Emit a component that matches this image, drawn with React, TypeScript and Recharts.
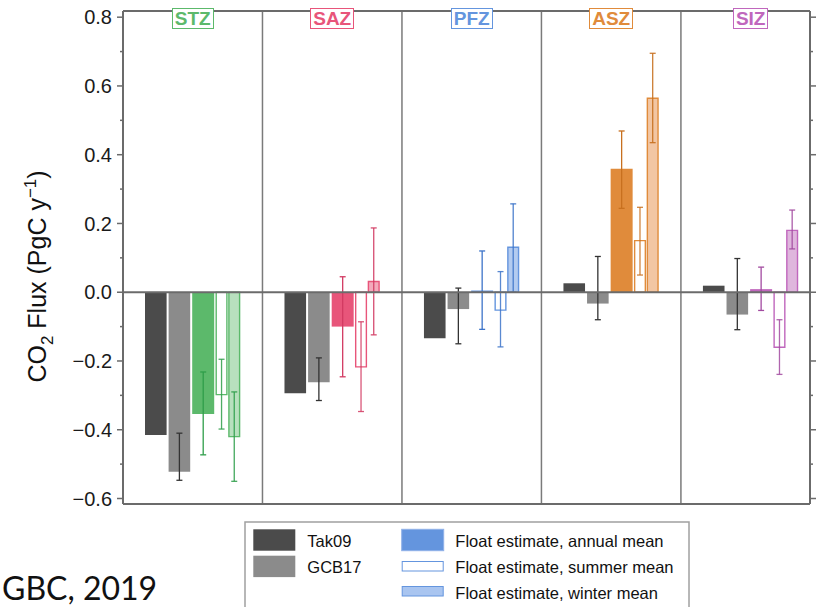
import { BarChart, Bar, XAxis, YAxis, ReferenceLine, ErrorBar, Cell } from 'recharts'

// zones and their colours
const zones = ['STZ', 'SAZ', 'PFZ', 'ASZ', 'SIZ']
const zoneColors = ['#5cb96b', '#e8557a', '#6495de', '#e08b3b', '#c067bd']
const zoneLight = ['#b8e0be', '#f3a9bb', '#b3cbf0', '#f2c6a3', '#dfb6dd']
const zoneErr = ['#2f9e4a', '#d23a62', '#3d74c9', '#c8701f', '#a24aa0']

// CO2 flux, PgC / yr
const tak09 = [-0.415, -0.294, -0.134, 0.026, 0.019]
const gcb17 = [-0.522, -0.262, -0.049, -0.033, -0.065]
const gcb17Low = [-0.547, -0.315, -0.15, -0.08, -0.109]
const gcb17High = [-0.41, -0.191, 0.012, 0.104, 0.098]
const annual = [-0.354, -0.1, 0.005, 0.359, 0.009]
const annualLow = [-0.473, -0.246, -0.108, 0.244, -0.053]
const annualHigh = [-0.232, 0.045, 0.12, 0.469, 0.073]
const summer = [-0.298, -0.217, -0.052, 0.15, -0.16]
const summerLow = [-0.398, -0.347, -0.159, 0.05, -0.239]
const summerHigh = [-0.195, -0.086, 0.06, 0.247, -0.08]
const winter = [-0.42, 0.031, 0.131, 0.564, 0.18]
const winterLow = [-0.55, -0.124, 0.0, 0.435, 0.126]
const winterHigh = [-0.29, 0.187, 0.257, 0.695, 0.239]

const yTicks = [-0.6, -0.5, -0.4, -0.3, -0.2, -0.1, 0, 0.1, 0.2, 0.3, 0.4, 0.5, 0.6, 0.7, 0.8]

const legendLeft = ['Tak09', 'GCB17']
const legendRight = ['Float estimate, annual mean', 'Float estimate, summer mean', 'Float estimate, winter mean']

const FONT = '"Liberation Sans", Arial, Helvetica, sans-serif'
const FRAME = '#6b6b6b'

const err = (v: number[], lo: number[], hi: number[], i: number) => [v[i] - lo[i], hi[i] - v[i]]

const data = zones.map((zone, i) => ({
  zone,
  tak09: tak09[i],
  gcb17: gcb17[i],
  gcb17Err: err(gcb17, gcb17Low, gcb17High, i),
  annual: annual[i],
  annualErr: err(annual, annualLow, annualHigh, i),
  summer: summer[i],
  summerErr: err(summer, summerLow, summerHigh, i),
  winter: winter[i],
  winterErr: err(winter, winterLow, winterHigh, i),
}))

function fmt(v: number) {
  return v < 0 ? '\u2212' + Math.abs(v).toFixed(1) : v.toFixed(1)
}

const isMajor = (v: number) => Math.round(v * 10) % 2 === 0

// eslint-disable-next-line @typescript-eslint/no-explicit-any
function LeftTick({ x, y, payload }: any) {
  const major = isMajor(payload.value)
  return (
    <g>
      <line x1={x} x2={x - (major ? 6 : 3)} y1={y} y2={y} stroke={FRAME} strokeWidth={1.5} />
      {major && (
        <text x={x - 11} y={y} dy="0.36em" textAnchor="end" fontSize={20} fontFamily={FONT} fill="#1a1a1a">
          {fmt(payload.value)}
        </text>
      )}
    </g>
  )
}

// eslint-disable-next-line @typescript-eslint/no-explicit-any
function RightTick({ x, y, payload }: any) {
  const major = isMajor(payload.value)
  return <line x1={x} x2={x + (major ? 6 : 3)} y1={y} y2={y} stroke={FRAME} strokeWidth={1.5} />
}

// eslint-disable-next-line @typescript-eslint/no-explicit-any
function ZoneTick({ x, payload }: any) {
  const c = zoneColors[zones.indexOf(payload.value)]
  return (
    <foreignObject x={x - 40} y={8.3} width={80} height={26}>
      <div style={{ display: 'flex', justifyContent: 'center' }}>
        <span
          style={{
            border: `1.5px solid ${c}`,
            color: c,
            fontFamily: FONT,
            fontWeight: 'bold',
            fontSize: 19,
            lineHeight: '17px',
            padding: '1px 2px',
            background: '#fff',
          }}
        >
          {payload.value}
        </span>
      </div>
    </foreignObject>
  )
}

function YTitle() {
  return (
    <text transform="translate(46 276.5) rotate(-90)" textAnchor="middle" fontSize={25} fontFamily={FONT} fill="#111">
      CO<tspan dy={7} fontSize={17}>2</tspan>
      <tspan dy={-7}> Flux (PgC y</tspan>
      <tspan dy={-10} fontSize={17}>{'\u22121'}</tspan>
      <tspan dy={10}>)</tspan>
    </text>
  )
}

function zoneErrorBars(key: string, opacity = 1) {
  return zones.map((z, i) => (
    <ErrorBar
      key={z}
      // eslint-disable-next-line @typescript-eslint/no-explicit-any
      dataKey={(d: any) => (d.zone === z ? d[key] : null)}
      width={3}
      stroke={zoneErr[i]}
      strokeWidth={1.3}
      strokeOpacity={opacity}
      direction="y"
    />
  ))
}

export default function App() {
  const pad = { left: 0, right: -10.4 }
  return (
    <div style={{ position: 'absolute', left: 0, top: 0, width: 819, height: 607, overflow: 'hidden', background: '#fff' }}>
      <BarChart width={819} height={607} data={data} barGap={2} margin={{ top: 10, right: 0, bottom: 102, left: 0 }}>
        <XAxis dataKey="zone" height={1} tick={false} tickLine={false} padding={pad} axisLine={{ stroke: FRAME, strokeWidth: 2 }} />
        <XAxis
          xAxisId="top"
          orientation="top"
          dataKey="zone"
          height={1}
          tickSize={0}
          tickMargin={0}
          tickLine={false}
          interval={0}
          padding={pad}
          tick={<ZoneTick />}
          axisLine={{ stroke: FRAME, strokeWidth: 2 }}
        />
        <YAxis
          width={123}
          domain={[-0.616, 0.818]}
          allowDataOverflow
          ticks={yTicks}
          interval={0}
          tickSize={0}
          tickMargin={0}
          tickLine={false}
          tick={<LeftTick />}
          axisLine={{ stroke: FRAME, strokeWidth: 2 }}
          label={<YTitle />}
        />
        <YAxis
          yAxisId="r"
          orientation="right"
          width={9}
          domain={[-0.616, 0.818]}
          allowDataOverflow
          ticks={yTicks}
          interval={0}
          tickSize={0}
          tickMargin={0}
          tickLine={false}
          tick={<RightTick />}
          axisLine={{ stroke: FRAME, strokeWidth: 2 }}
        />
        {zones.slice(1).map((z) => (
          <ReferenceLine key={z} x={z} position="start" stroke="#7a7a7a" strokeWidth={1.5} />
        ))}
        <Bar dataKey="tak09" barSize={21.6} fill="#4b4b4b" isAnimationActive={false} />
        <Bar dataKey="gcb17" barSize={21.6} fill="#8b8b8b" isAnimationActive={false}>
          <ErrorBar dataKey="gcb17Err" width={3} stroke="#333" strokeWidth={1.3} direction="y" />
        </Bar>
        <Bar dataKey="annual" barSize={22} isAnimationActive={false}>
          {zones.map((z, i) => (
            <Cell key={z} fill={zoneColors[i]} />
          ))}
          {zoneErrorBars('annualErr')}
        </Bar>
        <Bar dataKey="summer" barSize={10.7} isAnimationActive={false}>
          {zones.map((z, i) => (
            <Cell key={z} fill="#fff" stroke={zoneColors[i]} strokeWidth={1.4} />
          ))}
          {zoneErrorBars('summerErr', 0.85)}
        </Bar>
        <Bar dataKey="winter" barSize={10.7} isAnimationActive={false}>
          {zones.map((z, i) => (
            <Cell key={z} fill={zoneLight[i]} stroke={zoneColors[i]} strokeWidth={1.4} />
          ))}
          {zoneErrorBars('winterErr', 0.9)}
        </Bar>
        <ReferenceLine y={0} stroke={FRAME} strokeWidth={2} />
      </BarChart>

      <svg width={819} height={607} style={{ position: 'absolute', left: 0, top: 0, pointerEvents: 'none' }}>
        <rect x={245} y={522} width={444} height={120} fill="#fff" stroke="#a0a0a0" strokeWidth={1.5} />
        <rect x={253.3} y={529.3} width={42} height={21.4} fill="#4b4b4b" />
        <rect x={253.3} y={555.7} width={42} height={21.4} fill="#8b8b8b" />
        <rect x={401.7} y={529.3} width={42} height={21.4} fill="#6495de" stroke="#8fb1e8" strokeWidth={1} />
        <rect x={402.2} y={561.5} width={41} height={9.5} fill="#fff" stroke="#6495de" strokeWidth={1} />
        <rect x={402.2} y={586.5} width={41} height={9.5} fill="#a9c5f0" stroke="#6495de" strokeWidth={1} />
        {legendLeft.map((t, i) => (
          <text key={t} x={307.3} y={546.7 + i * 26} fontSize={16.5} fontFamily={FONT} fill="#111">
            {t}
          </text>
        ))}
        {legendRight.map((t, i) => (
          <text key={t} x={455.3} y={546.7 + i * 26.3} fontSize={16.5} fontFamily={FONT} fill="#111">
            {t}
          </text>
        ))}
        <text x={2} y={600} fontSize={32} fontFamily="Lato, 'Open Sans', sans-serif" fill="#111">
          GBC, 2019
        </text>
      </svg>
    </div>
  )
}
